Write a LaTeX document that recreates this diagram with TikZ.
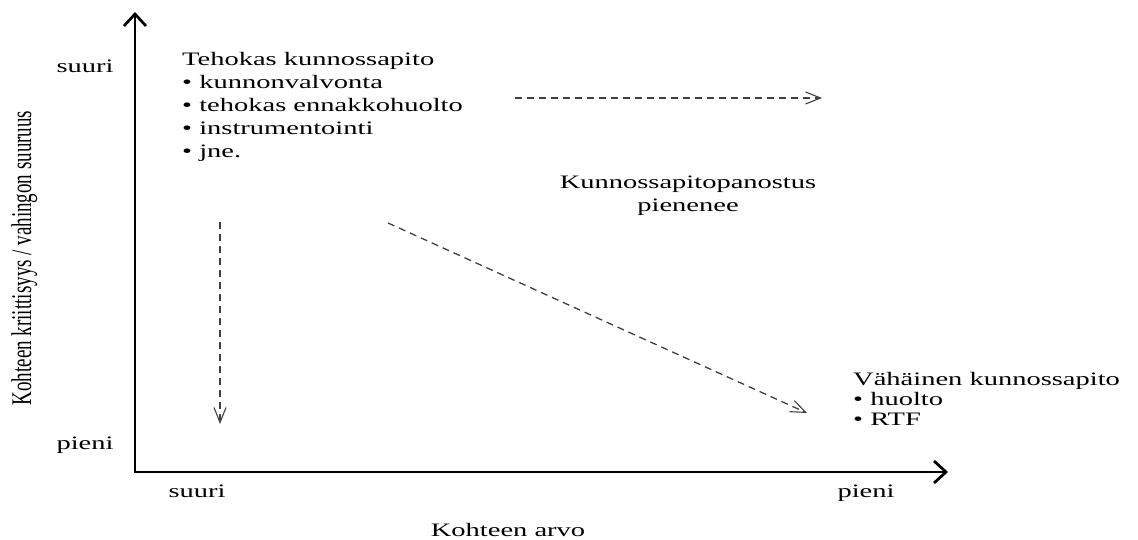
\documentclass[tikz,border=0pt]{standalone}
\usepackage{fontspec}
\setmainfont{Liberation Serif}[FakeStretch=1.5]
\newfontfamily\uprightlabel{Liberation Serif}
\usetikzlibrary{arrows.meta}
\begin{document}
\begin{tikzpicture}[x=1pt,y=-1pt,
  lbl/.style={inner sep=0pt, font=\fontsize{19}{23}\selectfont},
  axis/.style={line width=2.7pt, {Straight Barb[length=12pt,width=22pt]}-{Straight Barb[length=12pt,width=22pt]}},
  trend/.style={line width=1.3pt, black!75, dash pattern=on 7pt off 5pt,
    -{Straight Barb[length=15pt,width=12pt,line width=1.1pt]}}]
\useasboundingbox (0,0) rectangle (1138,540);

% axes
\coordinate (O) at (135,472);
\coordinate (ytop) at (135,12);
\coordinate (xend) at (948,472);
\draw[axis] (ytop) -- (O) -- (xend);

% axis end labels
\node[lbl, anchor=base] (ybig) at (85,73) {suuri};
\node[lbl, anchor=base] (ysmall) at (85,449) {pieni};
\node[lbl, anchor=base] (xbig) at (197,497) {suuri};
\node[lbl, anchor=base] (xsmall) at (866,497) {pieni};

% axis titles
\node[lbl, anchor=base] (xtitle) at (508,536) {Kohteen arvo};
\node[inner sep=0pt, rotate=90, anchor=base] (ytitle) at (31,258)
  {\scalebox{1}[1.5]{\uprightlabel\fontsize{19}{23}\selectfont Kohteen kriittisyys / vahingon suuruus}};

% text blocks
\node[lbl, anchor=north west, align=left] (high) at (182,52)
  {Tehokas kunnossapito\\
   \textbullet\ kunnonvalvonta\\
   \textbullet\ tehokas ennakkohuolto\\
   \textbullet\ instrumentointi\\
   \textbullet\ jne.};
\node[lbl, anchor=north, align=center] (effort) at (688,176)
  {Kunnossapitopanostus\\ pienenee};
\node[lbl, anchor=north west, align=left, font=\fontsize{19}{20}\selectfont] (low) at (853,372)
  {Vähäinen kunnossapito\\
   \textbullet\ huolto\\
   \textbullet\ RTF};

% trend arrows
\coordinate (h1) at (515,98);
\coordinate (h2) at (822,98);
\coordinate (v1) at (220,222);
\coordinate (v2) at (220,424);
\coordinate (d1) at (388,223);
\coordinate (d2) at (807,413);
\draw[trend] (h1) -- (h2);
\draw[trend] (v1) -- (v2);
\draw[trend] (d1) -- (d2);
\end{tikzpicture}
\end{document}
